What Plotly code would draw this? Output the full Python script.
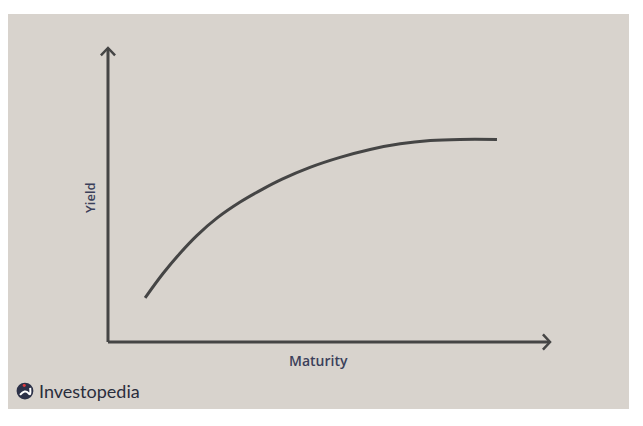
import plotly.graph_objects as go

# Data (abstract units: maturity along x, yield along y)
maturity = [0.84, 1.24, 1.63, 2.01, 2.47, 2.99, 3.51, 3.94, 4.57, 5.25, 5.93, 6.61, 7.29, 7.96, 8.80]
yield_vals = [1.50, 2.32, 3.02, 3.62, 4.22, 4.76, 5.21, 5.54, 5.94, 6.28, 6.55, 6.74, 6.85, 6.89, 6.89]
x_label = "Maturity"
y_label = "Yield"
brand = "Investopedia"

AX = "#454545"
TXT = "#3b3f5a"
BG = "#d8d3cd"

fig = go.Figure()
fig.add_trace(go.Scatter(
    x=maturity, y=yield_vals, mode="lines",
    line=dict(color=AX, width=3, shape="spline", smoothing=1.0),
    hoverinfo="skip", showlegend=False,
))

shapes = [
    # axes
    dict(type="line", x0=0, y0=0, x1=0, y1=10, xref="x", yref="y",
         line=dict(color=AX, width=3)),
    dict(type="line", x0=0, y0=0, x1=10, y1=0, xref="x", yref="y",
         line=dict(color=AX, width=3)),
    # arrow chevrons
    dict(type="path", xref="x", yref="y",
         path="M -0.16,9.75 L 0,10 L 0.16,9.75",
         line=dict(color=AX, width=2.5)),
    dict(type="path", xref="x", yref="y",
         path="M 9.84,0.26 L 10,0 L 9.84,-0.26",
         line=dict(color=AX, width=2.5)),
    # logo circle
    dict(type="circle", xref="x", yref="y",
         x0=-1.878 - 0.19, x1=-1.878 + 0.19, y0=-1.667 - 0.285, y1=-1.667 + 0.285,
         fillcolor="#2c3148", line=dict(width=0)),
    dict(type="path", xref="x", yref="y",
         path="M -1.99,-1.80 Q -1.88,-1.60 -1.80,-1.74 Q -1.74,-1.86 -1.76,-1.56",
         line=dict(color="white", width=2)),
    dict(type="circle", xref="x", yref="y",
         x0=-1.93, x1=-1.86, y0=-1.53, y1=-1.43,
         fillcolor="#e03a3e", line=dict(width=0)),
]

annotations = [
    dict(x=4.77, y=-0.646, xref="x", yref="y", text=x_label, showarrow=False,
         font=dict(family="Open Sans", size=14, color=TXT, weight=600)),
    dict(x=-0.41, y=4.93, xref="x", yref="y", text=y_label, showarrow=False,
         textangle=-90,
         font=dict(family="Open Sans", size=13, color=TXT, weight=600)),
    dict(x=-1.61, y=-1.667, xref="x", yref="y", text=brand, showarrow=False,
         xanchor="left",
         font=dict(family="Lato", size=18, color="#2a2d3c")),
]

fig.update_layout(
    width=635, height=418,
    margin=dict(l=0, r=14, t=6, b=17),
    paper_bgcolor="white", plot_bgcolor=BG,
    shapes=shapes, annotations=annotations,
    xaxis=dict(range=[-2.262, 11.787], visible=False, fixedrange=True),
    yaxis=dict(range=[-2.279, 11.156], visible=False, fixedrange=True),
    showlegend=False,
)

fig.write_html("out.html", config={"displayModeBar": False})
